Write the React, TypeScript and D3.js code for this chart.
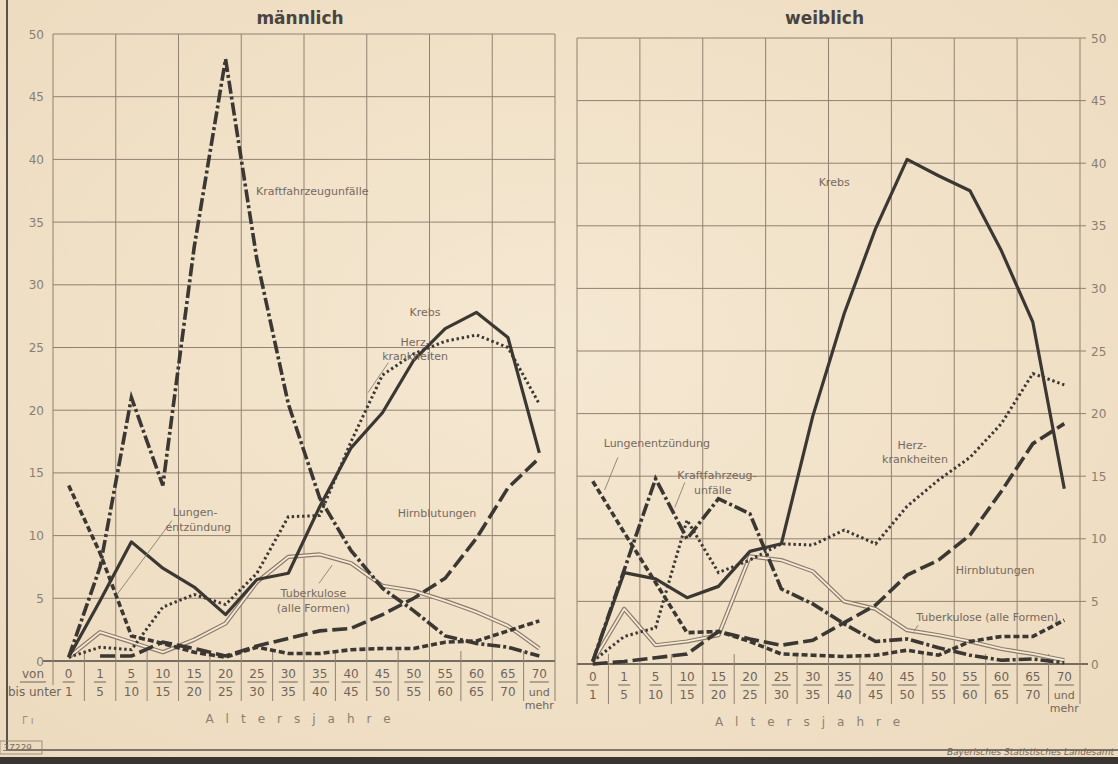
import React, { useEffect } from "react";
import * as d3 from "d3";

// ---------- data ----------
const ageFrom = ["0", "1", "5", "10", "15", "20", "25", "30", "35", "40", "45", "50", "55", "60", "65", "70"];
const ageTo = ["1", "5", "10", "15", "20", "25", "30", "35", "40", "45", "50", "55", "60", "65", "70", "und"];
const yTicks = [0, 5, 10, 15, 20, 25, 30, 35, 40, 45, 50];

// männlich
const krebsM = [0.3, 4.8, 9.5, 7.4, 5.9, 3.7, 6.5, 7.0, 12.3, 17, 19.8, 24, 26.5, 27.8, 25.8, 16.6];
const kfzM = [0.3, 7.5, 21, 14, 33, 48, 32, 20.5, 13, 8.8, 5.8, 4, 2, 1.4, 1.1, 0.4];
const herzM = [0.3, 1.1, 0.9, 4.3, 5.3, 4.5, 7, 11.5, 11.6, 17.5, 22.8, 24.5, 25.5, 26, 25, 20.5];
const lungenM = [14, 8.6, 2, 1.4, 0.7, 0.3, 1.1, 0.6, 0.6, 0.9, 1.0, 1.0, 1.5, 1.6, 2.4, 3.2];
const hirnM = [null, 0.4, 0.4, 1.5, 1.0, 0.4, 1.2, 1.8, 2.4, 2.6, 3.7, 5.0, 6.6, 9.8, 13.8, 16.2];
const tbcM = [0.3, 2.3, 1.5, 0.7, 1.7, 3.0, 6.3, 8.3, 8.5, 7.8, 6.0, 5.6, 4.8, 3.9, 2.8, 1.0];

// weiblich
const krebsF = [0.2, 7.3, 6.8, 5.3, 6.2, 9.0, 9.6, 19.8, 28, 34.8, 40.3, 39, 37.8, 33, 27.3, 14];
const kfzF = [0.2, 7.5, 14.8, 10.0, 13.2, 12.0, 6.0, 4.8, 3.2, 1.8, 2.0, 1.3, 0.7, 0.3, 0.4, 0.1];
const herzF = [0.2, 2.2, 2.9, 11.5, 7.3, 8.3, 9.6, 9.5, 10.7, 9.6, 12.6, 14.7, 16.5, 19.2, 23.2, 22.3];
const lungenF = [14.6, 10.5, 6.5, 2.5, 2.6, 1.8, 0.8, 0.7, 0.6, 0.7, 1.1, 0.7, 1.8, 2.2, 2.2, 3.5];
const hirnF = [0, 0.2, 0.5, 0.8, 2.6, 2.0, 1.5, 1.9, 3.3, 4.7, 7.1, 8.3, 10.3, 13.8, 17.6, 19.2];
const tbcF = [0.2, 4.4, 1.5, 1.8, 2.3, 8.6, 8.3, 7.4, 5.0, 4.4, 2.7, 2.3, 1.8, 1.2, 0.8, 0.3];

// annotations (positions in data units: i = age-group index, v = value)
const labelsM = [
  { text: "Kraftfahrzeugunfälle", i: 5.97, v: 37.5, anchor: "start" },
  { text: "Krebs", i: 11.36, v: 27.8, anchor: "middle" },
  { text: "Herz-", i: 11.04, v: 25.4, anchor: "middle" },
  { text: "krankheiten", i: 11.04, v: 24.3, anchor: "middle" },
  { text: "Lungen-", i: 4.03, v: 11.9, anchor: "middle" },
  { text: "entzündung", i: 4.13, v: 10.7, anchor: "middle" },
  { text: "Hirnblutungen", i: 11.74, v: 11.8, anchor: "middle" },
  { text: "Tuberkulose", i: 7.8, v: 5.4, anchor: "middle" },
  { text: "(alle Formen)", i: 7.8, v: 4.2, anchor: "middle" },
];
const leadersM = [
  { i1: 3.29, v1: 11.2, i2: 1.54, v2: 5.3 },
  { i1: 7.98, v1: 6.2, i2: 8.4, v2: 7.65 },
  { i1: 10.19, v1: 23.8, i2: 9.54, v2: 21.4 },
];
const labelsF = [
  { text: "Krebs", i: 7.68, v: 38.5, anchor: "middle" },
  { text: "Herz-", i: 10.16, v: 17.5, anchor: "middle" },
  { text: "krankheiten", i: 10.25, v: 16.4, anchor: "middle" },
  { text: "Hirnblutungen", i: 12.8, v: 7.5, anchor: "middle" },
  { text: "Tuberkulose (alle Formen)", i: 12.55, v: 3.75, anchor: "middle" },
  { text: "Lungenentzündung", i: 2.04, v: 17.65, anchor: "middle" },
  { text: "Kraftfahrzeug-", i: 3.95, v: 15.1, anchor: "middle" },
  { text: "unfälle", i: 3.82, v: 13.9, anchor: "middle" },
];
const leadersF = [
  { i1: 0.8, v1: 16.5, i2: 0.38, v2: 13.9 },
  { i1: 2.93, v1: 14.5, i2: 2.61, v2: 12.5 },
  { i1: 10.35, v1: 3.1, i2: 10.22, v2: 2.6 },
];

// ---------- style ----------
const INK = "#3b3733";
const GRID = "#918170";
const TXT = "#75695f";
const FONT = "'DejaVu Sans', 'Liberation Sans', sans-serif";

type Cfg = { x0: number; x1: number; yZero: number; yTop: number; side: "left" | "right" };

function Panel({ cfg, series, labels, leaders, title }: any) {
  const c: Cfg = cfg;
  const band = d3.scaleBand<number>().domain(d3.range(16)).range([c.x0, c.x1]).padding(0);
  const bw = band.bandwidth();
  const xc = (i: number) => c.x0 + bw * (i + 0.5);
  const y = d3.scaleLinear().domain([0, 50]).range([c.yZero, c.yTop]);
  const mkLine = d3
    .line<any>()
    .defined((d) => d != null)
    .x((_d, i) => xc(i))
    .y((d) => y(d));

  const gridX = d3.range(0, 17, 2).map((k) => c.x0 + k * bw);
  const sepX = d3.range(0, 17).map((k) => c.x0 + k * bw);
  const gEnd = c.side === "right" ? c.x1 + 6 : c.x1;
  const axisStart = c.side === "left" ? c.x0 - 10 : c.x0;

  return (
    <g>
      <text x={(c.x0 + c.x1) / 2 - 4} y={24} textAnchor="middle" fontFamily={FONT} fontSize={17} fontWeight="bold" fill="#4a4440">
        {title}
      </text>
      {/* horizontal grid */}
      {yTicks.map((t) => (
        <line key={"h" + t} x1={t === 0 ? axisStart : c.x0} x2={t === 0 && c.side === "right" ? c.x1 + 8 : gEnd} y1={y(t)} y2={y(t)} stroke={t === 0 ? "#4e4741" : GRID} strokeWidth={t === 0 ? 1.6 : 1} />
      ))}
      {/* vertical grid */}
      {gridX.map((gx, k) => (
        <line key={"v" + k} x1={gx} x2={gx} y1={c.yTop} y2={c.yZero} stroke={GRID} strokeWidth={1} />
      ))}
      {/* y labels */}
      {yTicks.map((t) => (
        <text key={"yl" + t} x={c.side === "left" ? 44 : c.x1 + 11} y={y(t) + 4.5} textAnchor={c.side === "left" ? "end" : "start"} fontFamily={FONT} fontSize={12} fill="#8a7e73">
          {t}
        </text>
      ))}
      {/* separators below axis */}
      {sepX.map((sx, k) => (
        <line key={"s" + k} x1={sx} x2={sx} y1={c.yZero - (k % 2 === 0 ? 0 : 10)} y2={c.side === "left" && k === 0 ? c.yZero + 24 : c.yZero + 40} stroke={GRID} strokeWidth={1} />
      ))}
      {/* category labels as fractions */}
      {ageFrom.map((a, i) => {
        const w = a.length > 1 ? 19 : 12;
        const last = i === 15;
        return (
          <g key={"c" + i} fontFamily={FONT} fontSize={12} fill="#6f645b" textAnchor="middle">
            <text x={xc(i)} y={c.yZero + 17}>{a}</text>
            <line x1={xc(i) - w / 2} x2={xc(i) + w / 2} y1={c.yZero + 21} y2={c.yZero + 21} stroke="#6f645b" strokeWidth={1} />
            {!(c.side === "left" && i === 0) && (
              <text x={xc(i)} y={c.yZero + 35} fontSize={last ? 11 : 12}>{ageTo[i]}</text>
            )}
            {last && (
              <text x={xc(i)} y={c.yZero + 48} fontSize={11}>mehr</text>
            )}
          </g>
        );
      })}
      {c.side === "left" && (
        <g fontFamily={FONT} fontSize={12} fill="#6f645b">
          <text x={33} y={c.yZero + 17} textAnchor="middle">von</text>
          <line x1={20} x2={46} y1={c.yZero + 21} y2={c.yZero + 21} stroke="#6f645b" strokeWidth={1} />
          <text x={xc(0) + 4} y={c.yZero + 35} textAnchor="end">bis unter 1</text>
        </g>
      )}
      <text x={(c.x0 + c.x1) / 2 + (c.side === "left" ? 0 : -15)} y={c.yZero + 62} textAnchor="middle" fontFamily={FONT} fontSize={12} fill="#8a7e73" letterSpacing={12}>
        Altersjahre
      </text>

      {/* series */}
      <path d={mkLine(series.tbc) || ""} fill="none" stroke="#8d7b69" strokeWidth={4.2} strokeLinejoin="round" />
      <path d={mkLine(series.tbc) || ""} fill="none" stroke="#f5ead8" strokeWidth={1.8} strokeLinejoin="round" />
      <path d={mkLine(series.hirn) || ""} fill="none" stroke={INK} strokeWidth={3.6} strokeDasharray="15,5" />
      <path d={mkLine(series.lungen) || ""} fill="none" stroke={INK} strokeWidth={3.6} strokeDasharray="6,3" />
      <path d={mkLine(series.herz) || ""} fill="none" stroke={INK} strokeWidth={3} strokeDasharray="2.4,2.8" />
      <path d={mkLine(series.kfz) || ""} fill="none" stroke={INK} strokeWidth={3.6} strokeDasharray="13,3,3,3" strokeLinejoin="miter" />
      <path d={mkLine(series.krebs) || ""} fill="none" stroke={INK} strokeWidth={3.2} strokeLinejoin="round" />

      {/* leaders */}
      {leaders.map((l: any, k: number) => (
        <line key={"ld" + k} x1={xc(l.i1)} y1={y(l.v1)} x2={xc(l.i2)} y2={y(l.v2)} stroke="#8a7e73" strokeWidth={0.9} />
      ))}
      {/* labels */}
      {labels.map((l: any, k: number) => (
        <text key={"lb" + k} x={xc(l.i)} y={y(l.v)} dy="0.35em" textAnchor={l.anchor} fontFamily={FONT} fontSize={11} fill={TXT}>
          {l.text}
        </text>
      ))}
    </g>
  );
}

export default function App() {
  useEffect(() => {
    document.body.style.margin = "0";
  }, []);
  const W = 1118;
  const H = 764;
  const left: Cfg = { x0: 53, x1: 555, yZero: 661, yTop: 34, side: "left" };
  const right: Cfg = { x0: 577, x1: 1080, yZero: 664, yTop: 38, side: "right" };
  return (
    <svg width={W} height={H} style={{ display: "block", position: "absolute", left: 0, top: 0 }}>
      <defs>
        <radialGradient id="paper" cx="50%" cy="45%" r="75%">
          <stop offset="0%" stopColor="#f5e8d2" />
          <stop offset="100%" stopColor="#ecdabd" />
        </radialGradient>
      </defs>
      <rect x={0} y={0} width={W} height={H} fill="url(#paper)" />
      {/* frame */}
      <line x1={7} x2={7} y1={0} y2={750} stroke="#5a524b" strokeWidth={2} />
      <line x1={6} x2={W} y1={750} y2={750} stroke="#5a524b" strokeWidth={1.5} />
      <rect x={0} y={757} width={W} height={7} fill="#3a3531" />
      <Panel cfg={left} title="männlich" series={{ krebs: krebsM, kfz: kfzM, herz: herzM, lungen: lungenM, hirn: hirnM, tbc: tbcM }} labels={labelsM} leaders={leadersM} />
      <Panel cfg={right} title="weiblich" series={{ krebs: krebsF, kfz: kfzF, herz: herzF, lungen: lungenF, hirn: hirnF, tbc: tbcF }} labels={labelsF} leaders={leadersF} />
      {/* footer */}
      <text x={22} y={724} fontFamily={FONT} fontSize={10} fill="#9a8f84">Γ ı</text>
      <rect x={0} y={741} width={42} height={13} fill="none" stroke="#8a7e73" strokeWidth={0.8} />
      <text x={3} y={751} fontFamily={FONT} fontSize={9} fontStyle="italic" fill="#7a6f66">37229</text>
      <text x={1114} y={755} textAnchor="end" fontFamily={FONT} fontSize={9} fontStyle="italic" fill="#6f645b">Bayerisches Statistisches Landesamt</text>
    </svg>
  );
}
